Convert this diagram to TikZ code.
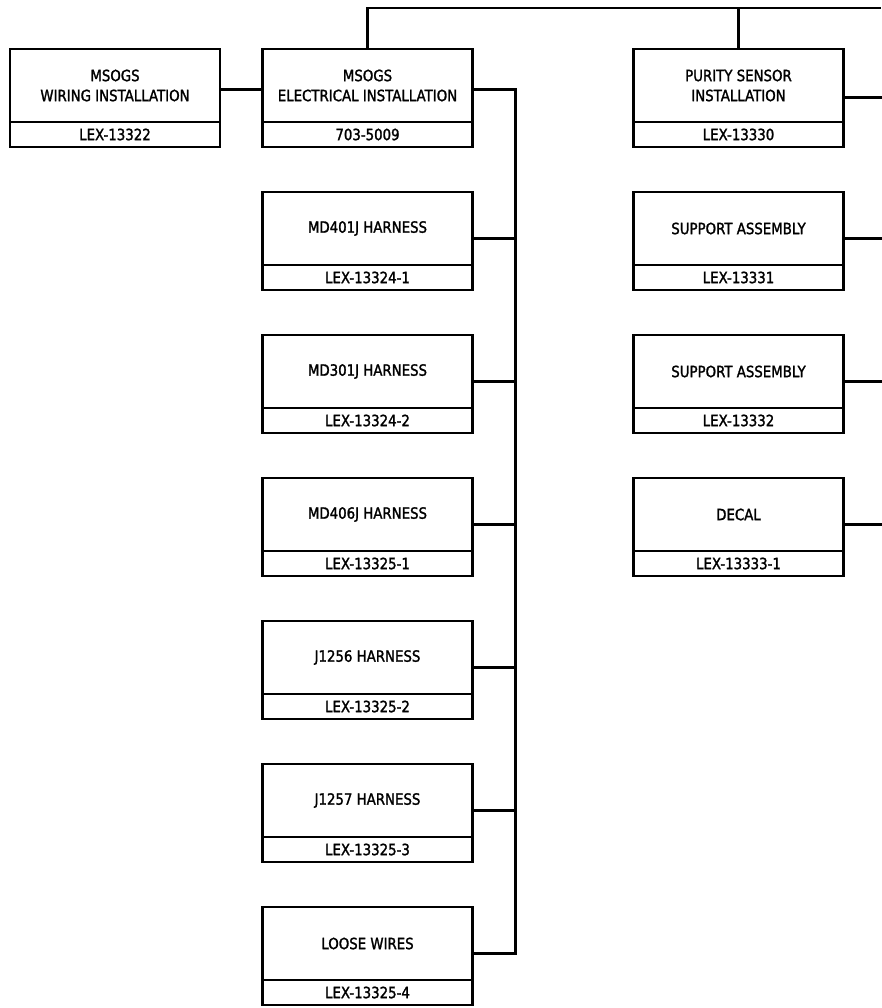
\documentclass[tikz,border=0pt]{standalone}
\usepackage{fontspec}
\setmainfont{DejaVu Sans}[FakeStretch=0.86, FakeBold=1.6]
\usetikzlibrary{positioning}

\begin{document}
\begin{tikzpicture}[x=1pt, y=-1pt, line width=2.4pt, node distance=45pt and 42pt,
  part/.style={draw, minimum width=210pt, minimum height=73pt, inner sep=0pt, outer sep=0pt,
    align=center, font=\fontsize{15.5}{20}\selectfont},
  partno/.style={draw, minimum width=210pt, minimum height=25pt, inner sep=0pt, outer sep=0pt,
    font=\fontsize{15.5}{18}\selectfont}]
  \useasboundingbox (0,0) rectangle (881,1008);
  \coordinate (top) at (881,8);

  % Top row
  \node[part] (wi) at (115,85.5) {MSOGS\\WIRING INSTALLATION};
  \node[partno, below=0pt of wi] (wiN) {LEX-13322};
  \node[part] (ei) at (367.5,85.5) {MSOGS\\ELECTRICAL INSTALLATION};
  \node[partno, below=0pt of ei] (eiN) {703-5009};
  \node[part] (ps) at (738.5,85.5) {PURITY SENSOR\\INSTALLATION};
  \node[partno, below=0pt of ps] (psN) {LEX-13330};

  % Harnesses
  \node[part, below=of eiN] (h1) {MD401J HARNESS};
  \node[partno, below=0pt of h1] (h1N) {LEX-13324-1};
  \node[part, below=of h1N] (h2) {MD301J HARNESS};
  \node[partno, below=0pt of h2] (h2N) {LEX-13324-2};
  \node[part, below=of h2N] (h3) {MD406J HARNESS};
  \node[partno, below=0pt of h3] (h3N) {LEX-13325-1};
  \node[part, below=of h3N] (h4) {J1256 HARNESS};
  \node[partno, below=0pt of h4] (h4N) {LEX-13325-2};
  \node[part, below=of h4N] (h5) {J1257 HARNESS};
  \node[partno, below=0pt of h5] (h5N) {LEX-13325-3};
  \node[part, below=of h5N] (lw) {LOOSE WIRES};
  \node[partno, below=0pt of lw] (lwN) {LEX-13325-4};

  % Purity sensor parts
  \node[part, below=of psN] (s1) {SUPPORT ASSEMBLY};
  \node[partno, below=0pt of s1] (s1N) {LEX-13331};
  \node[part, below=of s1N] (s2) {SUPPORT ASSEMBLY};
  \node[partno, below=0pt of s2] (s2N) {LEX-13332};
  \node[part, below=of s2N] (dc) {DECAL};
  \node[partno, below=0pt of dc] (dcN) {LEX-13333-1};

  % Connectors
  \draw ([yshift=-4pt]wi.east) -- ([yshift=-4pt]ei.west);
  \draw (ei.north) |- (top);
  \draw (ps.north) -- (ps.north |- top);
  \draw ([yshift=-4pt]ei.east) -| ([xshift=43pt, yshift=-10pt]lw.east) -- ([yshift=-10pt]lw.east);
  \draw ([yshift=-10pt]h1.east) -- ++(43,0);
  \draw ([yshift=-10pt]h2.east) -- ++(43,0);
  \draw ([yshift=-10pt]h3.east) -- ++(43,0);
  \draw ([yshift=-10pt]h4.east) -- ++(43,0);
  \draw ([yshift=-10pt]h5.east) -- ++(43,0);
  \draw ([yshift=-12pt]ps.east) -- ++(40,0);
  \draw ([yshift=-10pt]s1.east) -- ++(40,0);
  \draw ([yshift=-10pt]s2.east) -- ++(40,0);
  \draw ([yshift=-10pt]dc.east) -- ++(40,0);
\end{tikzpicture}
\end{document}
